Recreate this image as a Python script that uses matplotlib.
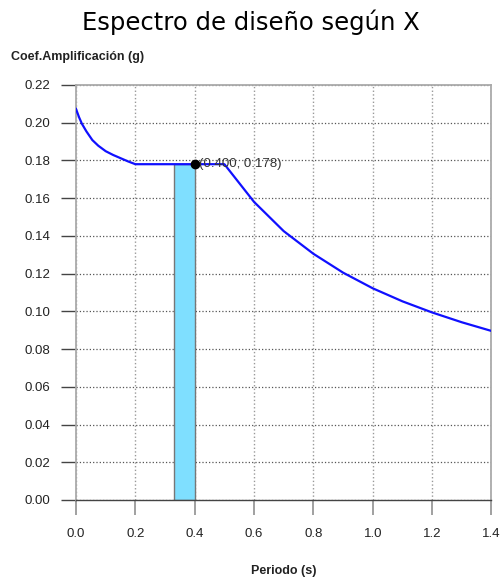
import matplotlib
matplotlib.use("Agg")
from matplotlib import pyplot as plt

# spectrum
periods = [0.0, 0.01, 0.02, 0.035, 0.055, 0.075, 0.1, 0.125, 0.15, 0.175, 0.2,
           0.5, 0.6, 0.7, 0.8, 0.9, 1.0, 1.1, 1.2, 1.3, 1.4]
sa = [0.2073, 0.2030, 0.1994, 0.1954, 0.1908, 0.1878, 0.1849, 0.1829, 0.1812, 0.1795, 0.178,
      0.178, 0.158, 0.1425, 0.1305, 0.1205, 0.1122, 0.1053, 0.0994, 0.0942, 0.0896]

# highlighted period band and selected point
band = (0.331, 0.400)
band_height = 0.178
point = (0.400, 0.178)

xticks = [0.0, 0.2, 0.4, 0.6, 0.8, 1.0, 1.2, 1.4]
yticks = [0.00, 0.02, 0.04, 0.06, 0.08, 0.10, 0.12, 0.14, 0.16, 0.18, 0.20, 0.22]

plt.rcParams["font.family"] = ["Liberation Sans", "DejaVu Sans"]

fig = plt.figure(figsize=(5.01, 5.78), dpi=100)
ax = fig.add_axes([0.1517, 0.135, 0.8293, 0.718])

ax.bar(band[0], band_height, width=band[1] - band[0], align="edge",
       color="#7fdfff", edgecolor="#777777", linewidth=1.0, zorder=2)
ax.plot(periods, sa, color="#1010ff", linewidth=1.6, zorder=3)
ax.plot([point[0]], [point[1]], "o", color="black", markersize=6, zorder=4)
ax.annotate("(%.3f, %.3f)" % point, xy=point, xytext=(3, 0),
            textcoords="offset points", va="center", ha="left",
            fontsize=9.5, color="#333333", zorder=5)

ax.set_xlim(0, 1.4)
ax.set_ylim(0, 0.22)
ax.set_xticks(xticks)
ax.set_xticklabels(["%.1f" % t for t in xticks])
ax.set_yticks(yticks)
ax.set_yticklabels(["%.2f" % t for t in yticks])

for t in xticks:
    ax.axvline(t, color="#999999", linestyle=":", linewidth=1.0, zorder=1)
for t in yticks:
    ax.axhline(t, color="#555555", linestyle=":", linewidth=0.9, zorder=1)

for side in ["top", "right", "left"]:
    ax.spines[side].set_color("#aaaaaa")
    ax.spines[side].set_linewidth(1.3)
ax.spines["bottom"].set_color("#444444")
ax.spines["bottom"].set_linewidth(1.0)

ax.tick_params(axis="y", length=11, width=1.0, color="#444444",
               labelsize=9.5, labelcolor="#222222", pad=7.5)
ax.tick_params(axis="x", length=11, width=1.3, color="#999999",
               labelsize=9.5, labelcolor="#222222", pad=9)

fig.text(0.5, 0.962, "Espectro de diseño según X", ha="center", va="center",
         fontsize=17.5, family="DejaVu Sans", color="black")
fig.text(0.022, 0.901, "Coef.Amplificación (g)", ha="left", va="center",
         fontsize=9, fontweight="bold", color="#222222")
fig.text(0.566, 0.012, "Periodo (s)", ha="center", va="center",
         fontsize=9, fontweight="bold", color="#222222")

fig.savefig("out.png", dpi=100)
